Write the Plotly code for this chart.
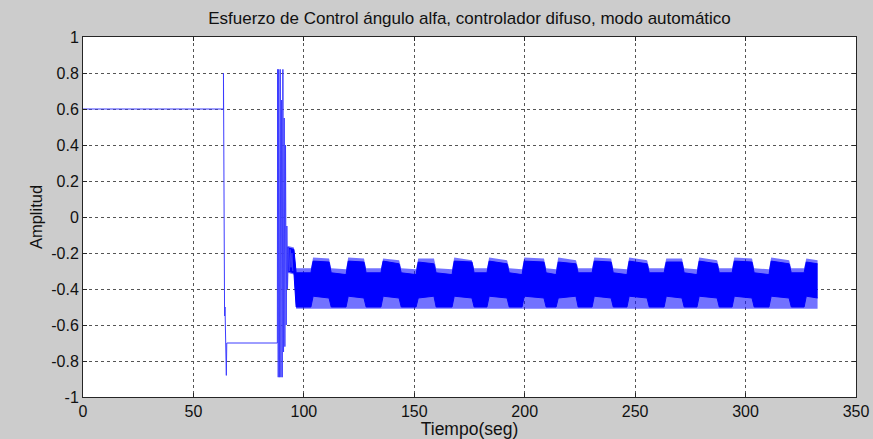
import plotly.graph_objects as go

# Transient part of the control effort (time in s, amplitude)
trans_t = [0, 63.6, 63.6, 63.9, 64.1, 64.3, 64.6, 64.9, 65.1, 65.3, 88.0,
           88.1, 88.4, 88.6, 89.0, 89.3, 89.6, 89.9, 90.2, 90.5, 90.8,
           91.1, 91.4, 91.7, 92.0, 92.3, 92.6, 93.0, 93.4, 93.8, 94.2, 94.6, 95.0]
trans_y = [0.6, 0.6, 0.80, -0.48, -0.55, -0.50, -0.72, -0.88, -0.70, -0.70, -0.70,
           0.82, -0.89, 0.82, -0.89, 0.82, -0.89, 0.65, -0.89, 0.82, -0.75,
           0.55, -0.72, 0.40, -0.60, -0.05, -0.40, -0.17, -0.30, -0.18, -0.28, -0.20, -0.30]

# Steady-state chattering band: breakpoints (s) of its envelopes
band_t = [92.5, 95.5, 96.5, 103.2, 104.2, 111.4, 112.4, 119.1, 120.1, 127.2, 128.2,
          134.9, 135.9, 143.1, 144.1, 150.8, 151.8, 158.9, 159.9, 167.1, 168.1,
          176.1, 177.1, 182.9, 183.9, 192.0, 193.0, 198.8, 199.8, 208.7, 209.7,
          214.2, 215.2, 223.2, 224.2, 230.5, 231.5, 239.1, 240.1, 246.3, 247.3,
          255.4, 256.4, 263.1, 264.1, 271.2, 272.2, 278.0, 279.0, 287.1, 288.1,
          293.9, 294.9, 302.9, 303.9, 310.6, 311.6, 319.7, 320.7, 326.5, 327.5, 332.6]
# dense core of the band
band_top = [-0.17, -0.18, -0.31, -0.31, -0.245, -0.25, -0.31, -0.32, -0.245, -0.25, -0.31,
            -0.31, -0.245, -0.26, -0.31, -0.32, -0.25, -0.26, -0.31, -0.32, -0.245,
            -0.25, -0.31, -0.31, -0.245, -0.26, -0.31, -0.32, -0.245, -0.25, -0.31,
            -0.32, -0.25, -0.26, -0.31, -0.31, -0.245, -0.25, -0.31, -0.32, -0.245,
            -0.26, -0.31, -0.31, -0.25, -0.25, -0.31, -0.32, -0.245, -0.26, -0.31,
            -0.31, -0.245, -0.25, -0.31, -0.32, -0.245, -0.26, -0.31, -0.31, -0.25, -0.26]
band_bot = [-0.30, -0.31, -0.50, -0.50, -0.44, -0.45, -0.50, -0.50, -0.44, -0.45, -0.50,
            -0.50, -0.44, -0.45, -0.50, -0.50, -0.45, -0.44, -0.50, -0.50, -0.44,
            -0.45, -0.50, -0.50, -0.44, -0.45, -0.50, -0.50, -0.44, -0.45, -0.50,
            -0.50, -0.45, -0.44, -0.50, -0.50, -0.44, -0.45, -0.50, -0.50, -0.44,
            -0.45, -0.50, -0.50, -0.44, -0.45, -0.50, -0.50, -0.44, -0.45, -0.50,
            -0.50, -0.44, -0.45, -0.50, -0.50, -0.44, -0.45, -0.50, -0.50, -0.44, -0.45]
# sparse spikes around the core
sparse_top = [-0.16, -0.17, -0.285, -0.285, -0.225, -0.23, -0.285, -0.29, -0.225, -0.23, -0.285,
              -0.285, -0.23, -0.24, -0.285, -0.29, -0.23, -0.23, -0.285, -0.29, -0.225,
              -0.24, -0.285, -0.285, -0.225, -0.24, -0.285, -0.29, -0.225, -0.23, -0.285,
              -0.29, -0.225, -0.24, -0.285, -0.285, -0.225, -0.23, -0.285, -0.29, -0.225,
              -0.24, -0.285, -0.285, -0.23, -0.23, -0.285, -0.29, -0.225, -0.24, -0.285,
              -0.285, -0.225, -0.23, -0.285, -0.29, -0.225, -0.24, -0.285, -0.285, -0.23, -0.24]
sparse_bot = [-0.31, -0.32, -0.51, -0.51, -0.51, -0.51, -0.51, -0.51, -0.51, -0.51, -0.51,
              -0.51, -0.51, -0.51, -0.51, -0.51, -0.51, -0.51, -0.51, -0.51, -0.51,
              -0.51, -0.51, -0.51, -0.51, -0.51, -0.51, -0.51, -0.51, -0.51, -0.51,
              -0.51, -0.51, -0.51, -0.51, -0.51, -0.51, -0.51, -0.51, -0.51, -0.51,
              -0.51, -0.51, -0.51, -0.51, -0.51, -0.51, -0.51, -0.51, -0.51, -0.51,
              -0.51, -0.51, -0.51, -0.51, -0.51, -0.51, -0.51, -0.51, -0.51, -0.51, -0.51]

x_ticks = [0, 50, 100, 150, 200, 250, 300, 350]
y_ticks = [-1, -0.8, -0.6, -0.4, -0.2, 0, 0.2, 0.4, 0.6, 0.8, 1]
y_ticktext = ["-1", "-0.8", "-0.6", "-0.4", "-0.2", "0", "0.2", "0.4", "0.6", "0.8", "1"]

BLUE = "#0000ff"
FONT = "Liberation Sans, Arial, sans-serif"
fig = go.Figure()

fig.add_trace(go.Scatter(x=band_t, y=sparse_top, mode="lines", line=dict(width=0),
                         showlegend=False, hoverinfo="skip"))
fig.add_trace(go.Scatter(x=band_t, y=sparse_bot, mode="lines", line=dict(width=0),
                         fill="tonexty", fillcolor="rgba(20,20,255,0.6)", showlegend=False,
                         hoverinfo="skip"))
fig.add_trace(go.Scatter(x=band_t, y=band_top, mode="lines", line=dict(width=1, color=BLUE),
                         showlegend=False))
fig.add_trace(go.Scatter(x=band_t, y=band_bot, mode="lines", line=dict(width=1, color=BLUE),
                         fill="tonexty", fillcolor=BLUE, showlegend=False))
fig.add_trace(go.Scatter(x=trans_t, y=trans_y, mode="lines",
                         line=dict(width=1, color="#3c3cff"), showlegend=False))

axis_common = dict(showline=True, linecolor="#262626", linewidth=1, mirror="ticks",
                   ticks="inside", ticklen=4, tickcolor="#262626",
                   showgrid=True, gridcolor="#555555", griddash="dot", gridwidth=1,
                   zeroline=False, automargin=False,
                   tickfont=dict(family=FONT, size=16, color="#111"))

fig.update_layout(
    width=873, height=439,
    paper_bgcolor="#cccccc", plot_bgcolor="#ffffff",
    margin=dict(l=83, r=17, t=37, b=42),
    title=dict(text="Esfuerzo de Control ángulo alfa, controlador difuso, modo automático",
               x=0.5, xref="paper", y=0.959, yref="container", xanchor="center", yanchor="middle",
               font=dict(family=FONT, size=17, color="#111")),
    xaxis=dict(range=[0, 350], tickvals=x_ticks, ticktext=[str(v) for v in x_ticks],
               title=dict(text="Tiempo(seg)", standoff=0,
                          font=dict(family=FONT, size=17.5, color="#111")),
               **axis_common),
    yaxis=dict(range=[-1, 1], tickvals=y_ticks, ticktext=y_ticktext,
               title=dict(text="Amplitud", standoff=4,
                          font=dict(family=FONT, size=16.5, color="#111")),
               **axis_common),
)

fig.write_html("out.html", config={"displayModeBar": False},
               post_script="document.body.style.margin='0';document.body.style.padding='0';")
